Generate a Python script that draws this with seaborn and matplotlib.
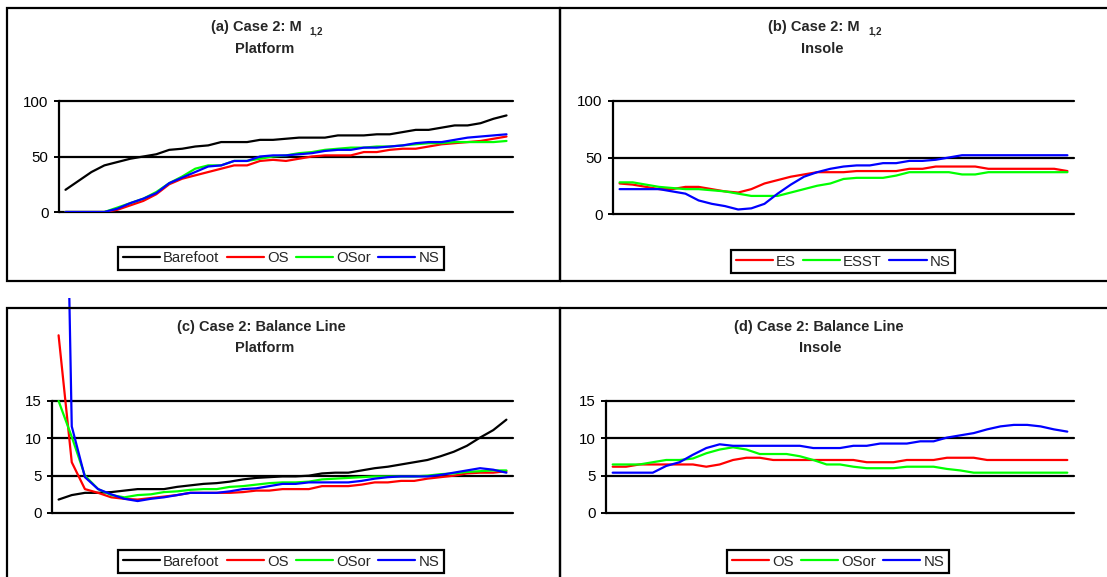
import numpy as np
import pandas as pd
import seaborn as sns
import matplotlib.pyplot as plt
from matplotlib.patches import Rectangle
from matplotlib.transforms import Bbox, TransformedBbox

sns.set_style("white")
plt.rcParams['font.family'] = ['Liberation Sans', 'DejaVu Sans']

# ---------------- data ----------------
a_barefoot = [20, 28, 36, 42, 45, 48, 50, 52, 56, 57, 59, 60, 63, 63, 63, 65, 65,
              66, 67, 67, 67, 69, 69, 69, 70, 70, 72, 74, 74, 76, 78, 78, 80, 84, 87]
a_os = [0, 0, 0, 0, 2, 6, 10, 16, 25, 30, 33, 36, 39, 42, 42, 46, 47,
        46, 48, 50, 51, 51, 51, 54, 54, 56, 57, 57, 59, 61, 62, 63, 64, 66, 68]
a_osor = [0, 0, 0, 0, 4, 8, 12, 18, 26, 32, 39, 42, 42, 46, 46, 48, 50,
          51, 53, 54, 56, 57, 58, 58, 59, 59, 60, 61, 62, 62, 63, 63, 63, 63, 64]
a_ns = [0, 0, 0, 0, 3, 8, 12, 17, 26, 31, 36, 41, 42, 46, 46, 50, 51,
        51, 52, 53, 55, 56, 56, 58, 58, 59, 60, 62, 63, 63, 65, 67, 68, 69, 70]

b_es = [27, 26, 24, 22, 22, 24, 24, 22, 20, 19, 22, 27, 30, 33, 35, 37, 37,
        37, 38, 38, 38, 38, 40, 40, 42, 42, 42, 42, 40, 40, 40, 40, 40, 40, 38]
b_esst = [28, 28, 26, 24, 23, 22, 22, 21, 20, 18, 16, 16, 16, 19, 22, 25, 27,
          31, 32, 32, 32, 34, 37, 37, 37, 37, 35, 35, 37, 37, 37, 37, 37, 37, 37]
b_ns = [22, 22, 22, 22, 20, 18, 12, 9, 7, 4, 5, 9, 18, 26, 33, 37, 40,
        42, 43, 43, 45, 45, 47, 47, 48, 50, 52, 52, 52, 52, 52, 52, 52, 52, 52]

c_barefoot = [1.8, 2.4, 2.7, 2.7, 2.8, 3.0, 3.2, 3.2, 3.2, 3.5, 3.7, 3.9, 4.0, 4.2,
              4.5, 4.7, 4.8, 4.9, 4.9, 5.0, 5.3, 5.4, 5.4, 5.7, 6.0, 6.2, 6.5, 6.8,
              7.1, 7.6, 8.2, 9.0, 10.1, 11.1, 12.5]
c_os = [23.8, 6.8, 3.2, 2.7, 2.1, 1.9, 1.8, 2.0, 2.2, 2.4, 2.7, 2.7, 2.7, 2.7,
        2.8, 3.0, 3.0, 3.2, 3.2, 3.2, 3.6, 3.6, 3.6, 3.8, 4.1, 4.1, 4.3, 4.3,
        4.6, 4.8, 5.0, 5.3, 5.4, 5.4, 5.6]
c_osor = [15.0, 10.2, 5.0, 3.2, 2.4, 2.1, 2.4, 2.5, 2.8, 2.9, 3.1, 3.2, 3.2, 3.5,
          3.6, 3.8, 4.0, 4.1, 4.1, 4.2, 4.5, 4.6, 4.7, 4.8, 4.9, 4.9, 4.9, 4.9,
          5.0, 5.2, 5.3, 5.5, 5.6, 5.7, 5.7]
c_ns = [105.0, 11.6, 4.8, 3.2, 2.5, 1.9, 1.6, 1.9, 2.1, 2.4, 2.7, 2.7, 2.7, 2.9,
        3.2, 3.3, 3.6, 3.9, 3.9, 4.1, 4.1, 4.1, 4.1, 4.3, 4.6, 4.8, 4.9, 4.9,
        4.9, 5.1, 5.4, 5.7, 6.0, 5.8, 5.4]

d_os = [6.2, 6.2, 6.5, 6.5, 6.5, 6.5, 6.5, 6.2, 6.5, 7.1, 7.4, 7.4, 7.1, 7.1,
        7.1, 7.1, 7.1, 7.1, 7.1, 6.8, 6.8, 6.8, 7.1, 7.1, 7.1, 7.4, 7.4, 7.4,
        7.1, 7.1, 7.1, 7.1, 7.1, 7.1, 7.1]
d_osor = [6.5, 6.5, 6.5, 6.8, 7.1, 7.1, 7.3, 8.0, 8.5, 8.8, 8.5, 7.9, 7.9, 7.9,
          7.6, 7.1, 6.5, 6.5, 6.2, 6.0, 6.0, 6.0, 6.2, 6.2, 6.2, 5.9, 5.7, 5.4,
          5.4, 5.4, 5.4, 5.4, 5.4, 5.4, 5.4]
d_ns = [5.4, 5.4, 5.4, 5.4, 6.3, 6.8, 7.8, 8.7, 9.2, 9.0, 9.0, 9.0, 9.0, 9.0,
        9.0, 8.7, 8.7, 8.7, 9.0, 9.0, 9.3, 9.3, 9.3, 9.6, 9.6, 10.1, 10.4, 10.7,
        11.2, 11.6, 11.8, 11.8, 11.6, 11.2, 10.9]

yticks_ab = [0, 50, 100]
yticks_cd = [0, 5, 10, 15]

COL = {'Barefoot': '#000000', 'OS': '#FF0000', 'OSor': '#00FF00',
       'NS': '#0000FF', 'ES': '#FF0000', 'ESST': '#00FF00'}

W, H = 1107, 577
fig = plt.figure(figsize=(W / 100, H / 100), dpi=100)


def add_ax(left, right, top_px, bottom_px):
    return fig.add_axes([left / W, 1 - bottom_px / H,
                         (right - left) / W, (bottom_px - top_px) / H])


def frame(x0, x1, y0, y1):
    fig.add_artist(Rectangle((x0 / W, 1 - y1 / H), (x1 - x0) / W, (y1 - y0) / H,
                             transform=fig.transFigure, fill=False,
                             lw=1.6, ec='black'))


frame(7, 560, 8, 281)
frame(560, 1110, 8, 281)
frame(7, 560, 308, 590)
frame(560, 1110, 308, 590)


def panel(ax, series, yticks, legend_center):
    rows = []
    for name, vals in series:
        for i, v in enumerate(vals):
            rows.append({'x': i, 'value': v, 'series': name})
    df = pd.DataFrame(rows)
    names = [s[0] for s in series]
    n = len(series[0][1])
    sns.lineplot(data=df, x='x', y='value', hue='series', hue_order=names,
                 palette=[COL[s] for s in names], linewidth=1.6, ax=ax,
                 legend=False, estimator=None, sort=False)
    ax.set_xlim(-0.5, n - 0.5)
    ax.set_ylim(yticks[0], yticks[-1])
    ax.set_yticks(yticks)
    ax.set_xticks([])
    ax.set_xlabel('')
    ax.set_ylabel('')
    for s in ['top', 'right', 'bottom']:
        ax.spines[s].set_visible(False)
    ax.spines['left'].set_linewidth(1.6)
    ax.spines['left'].set_color('black')
    ax.patch.set_alpha(0)
    for t in yticks:
        ax.axhline(t, color='black', lw=1.6, clip_on=False, zorder=1)
    ax.tick_params(axis='y', which='major', left=True, direction='out',
                   length=3.5, width=1.4, color='black', pad=4,
                   labelsize=10.8, labelcolor='black')
    lines = ax.lines[:len(names)]
    leg = ax.legend(lines, names, loc='center',
                    bbox_to_anchor=(legend_center[0] / W, 1 - legend_center[1] / H),
                    bbox_transform=fig.transFigure, ncol=len(names),
                    frameon=True, fancybox=False, framealpha=1,
                    edgecolor='black', borderpad=0.3, handlelength=2.5,
                    handletextpad=0.2, columnspacing=0.5,
                    prop={'size': 10.7}, borderaxespad=0)
    leg.get_frame().set_linewidth(1.6)
    for lh in leg.get_lines():
        lh.set_linewidth(1.6)
    return ax


axA = add_ax(59, 513, 101, 212)
axB = add_ax(613, 1074, 101, 214)
axC = add_ax(52, 513, 401, 513)
axD = add_ax(606, 1074, 401, 513)

panel(axA, [('Barefoot', a_barefoot), ('OS', a_os), ('OSor', a_osor), ('NS', a_ns)],
      yticks_ab, (281, 258.5))
panel(axB, [('ES', b_es), ('ESST', b_esst), ('NS', b_ns)],
      yticks_ab, (843, 261.5))
panel(axC, [('Barefoot', c_barefoot), ('OS', c_os), ('OSor', c_osor), ('NS', c_ns)],
      yticks_cd, (281, 561.5))
panel(axD, [('OS', d_os), ('OSor', d_osor), ('NS', d_ns)],
      yticks_cd, (838, 561.5))

# lines of panel (c) overflow the plot area upward, cut at y = 298 px
clipbox = TransformedBbox(Bbox([[0, 0], [560 / W, 1 - 298 / H]]), fig.transFigure)
for ln in axC.lines[:4]:
    ln.set_clip_box(clipbox)
    ln.set_clip_path(None)
    ln.set_clip_box(clipbox)


def title(x_main_right, x_sub_left, y1, main, sub, line2, x2, y2):
    fig.text(x_main_right / W, 1 - y1 / H, main, ha='right', va='center',
             fontsize=10.5, fontweight='bold')
    if sub:
        fig.text(x_sub_left / W, 1 - (y1 + 5) / H, sub, ha='left', va='center',
                 fontsize=7, fontweight='bold')
    fig.text(x2 / W, 1 - y2 / H, line2, ha='center', va='center',
             fontsize=10.5, fontweight='bold')


title(302, 309, 27, '(a) Case 2: M', '1,2', 'Platform', 265, 49)
title(860, 868, 27, '(b) Case 2: M', '1,2', 'Insole', 822, 49)
fig.text(261 / W, 1 - 327 / H, '(c) Case 2: Balance Line', ha='center',
         va='center', fontsize=10.5, fontweight='bold')
fig.text(265 / W, 1 - 348 / H, 'Platform', ha='center', va='center',
         fontsize=10.5, fontweight='bold')
fig.text(819 / W, 1 - 327 / H, '(d) Case 2: Balance Line', ha='center',
         va='center', fontsize=10.5, fontweight='bold')
fig.text(820 / W, 1 - 348 / H, 'Insole', ha='center', va='center',
         fontsize=10.5, fontweight='bold')

fig.savefig('out.png', dpi=100)
